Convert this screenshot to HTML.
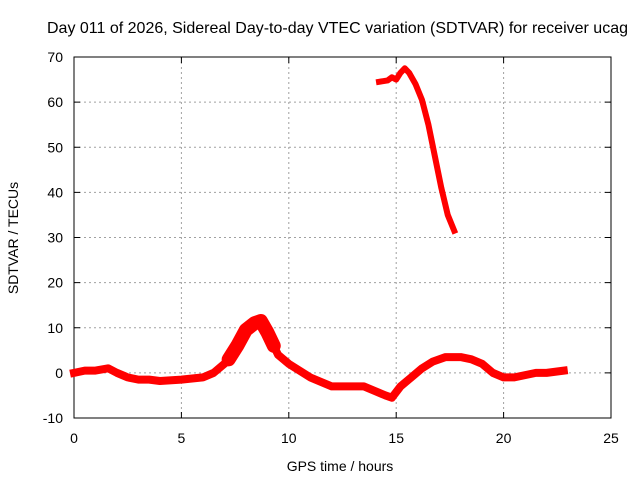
<!DOCTYPE html>
<html><head><meta charset="utf-8"><style>
body{margin:0;background:#fff;}
svg text{font-family:"Liberation Sans",sans-serif;font-size:14px;fill:#000;}
</style></head><body>
<svg id="chart" width="640" height="480">
<text x="47" y="33" style="font-size:16px">Day 011 of 2026, Sidereal Day-to-day VTEC variation (SDTVAR) for receiver ucag</text>
<g id="grid"></g>
<rect x="74" y="57" width="537" height="361" fill="none" stroke="#000" stroke-width="1"/>
<g id="ticks"></g>
<g id="series"></g>
<text x="340" y="471" text-anchor="middle">GPS time / hours</text>
<text transform="translate(18,238) rotate(-90)" text-anchor="middle">SDTVAR / TECUs</text>
</svg>
<script>
const xTicks=[0,5,10,15,20,25];
const yTicks=[-10,0,10,20,30,40,50,60,70];
const lowHours=[0,0.5,1,1.6,2,2.5,3,3.5,4,5,6,6.5,7,7.5,8,8.5,8.8,9.2,9.5,10,10.5,11,11.5,12,12.5,13,13.5,14,14.5,14.8,15.2,15.7,16.2,16.7,17.3,18,18.5,19,19.5,20,20.5,21,21.5,22,22.8];
const lowVals=[0,0.5,0.5,1,0,-1,-1.5,-1.5,-1.8,-1.5,-1,0,2,5,9,11.5,11.5,7,4,2,0.5,-1,-2,-3,-3,-3,-3,-4,-5,-5.5,-3,-1,1,2.5,3.5,3.5,3,2,0,-1,-1,-0.5,0,0,0.5];
const peakHours=[7.2,7.6,8,8.4,8.7,9,9.3];
const peakVals=[3,6,9.5,11,11.5,9,6];
const highHours=[14.2,14.6,14.8,15,15.2,15.4,15.6,15.9,16.2,16.5,16.8,17.1,17.4,17.7];
const highVals=[64.5,64.8,65.5,65,66.5,67.5,66.5,64,60.5,55,48,41,35,31.5];
const NS='http://www.w3.org/2000/svg';
const X=h=>74+h/25*537;
const Y=v=>418-(v+10)/80*361;
const grid=document.getElementById('grid'),ticks=document.getElementById('ticks'),series=document.getElementById('series');
function mk(tag,attrs,parent){const e=document.createElementNS(NS,tag);for(const k in attrs)e.setAttribute(k,attrs[k]);parent.appendChild(e);return e;}
xTicks.forEach(t=>{
  if(t>0&&t<25){const g=mk('line',{x1:X(t),x2:X(t),y1:57,y2:418,stroke:'#a0a0a0','stroke-dasharray':'2,3'},grid);
  
  }
  mk('line',{x1:X(t),x2:X(t),y1:418,y2:412,stroke:'#000'},ticks);
  mk('line',{x1:X(t),x2:X(t),y1:57,y2:63,stroke:'#000'},ticks);
  const tx=mk('text',{x:X(t),y:443,'text-anchor':'middle'},ticks);tx.textContent=t;
  
  
});
yTicks.forEach(t=>{
  if(t>-10&&t<70){const g=mk('line',{x1:74,x2:611,y1:Y(t),y2:Y(t),stroke:'#a0a0a0','stroke-dasharray':'2,3'},grid);
  
  }
  mk('line',{x1:74,x2:80,y1:Y(t),y2:Y(t),stroke:'#000'},ticks);
  mk('line',{x1:605,x2:611,y1:Y(t),y2:Y(t),stroke:'#000'},ticks);
  const tx=mk('text',{x:63,y:Y(t)+5,'text-anchor':'end'},ticks);tx.textContent=t;
  
  
});
function pts(hs,vs){return hs.map((h,i)=>X(h)+','+Y(vs[i])).join(' ');}
const l=mk('polyline',{points:pts(lowHours,lowVals),fill:'none',stroke:'#ff0000','stroke-width':8,'stroke-linejoin':'round','stroke-linecap':'square'},series);


const p=mk('polyline',{points:pts(peakHours,peakVals),fill:'none',stroke:'#ff0000','stroke-width':14,'stroke-linejoin':'round','stroke-linecap':'round'},series);


const h=mk('polyline',{points:pts(highHours,highVals),fill:'none',stroke:'#ff0000','stroke-width':6,'stroke-linejoin':'round','stroke-linecap':'square'},series);


</script>
</body></html>
